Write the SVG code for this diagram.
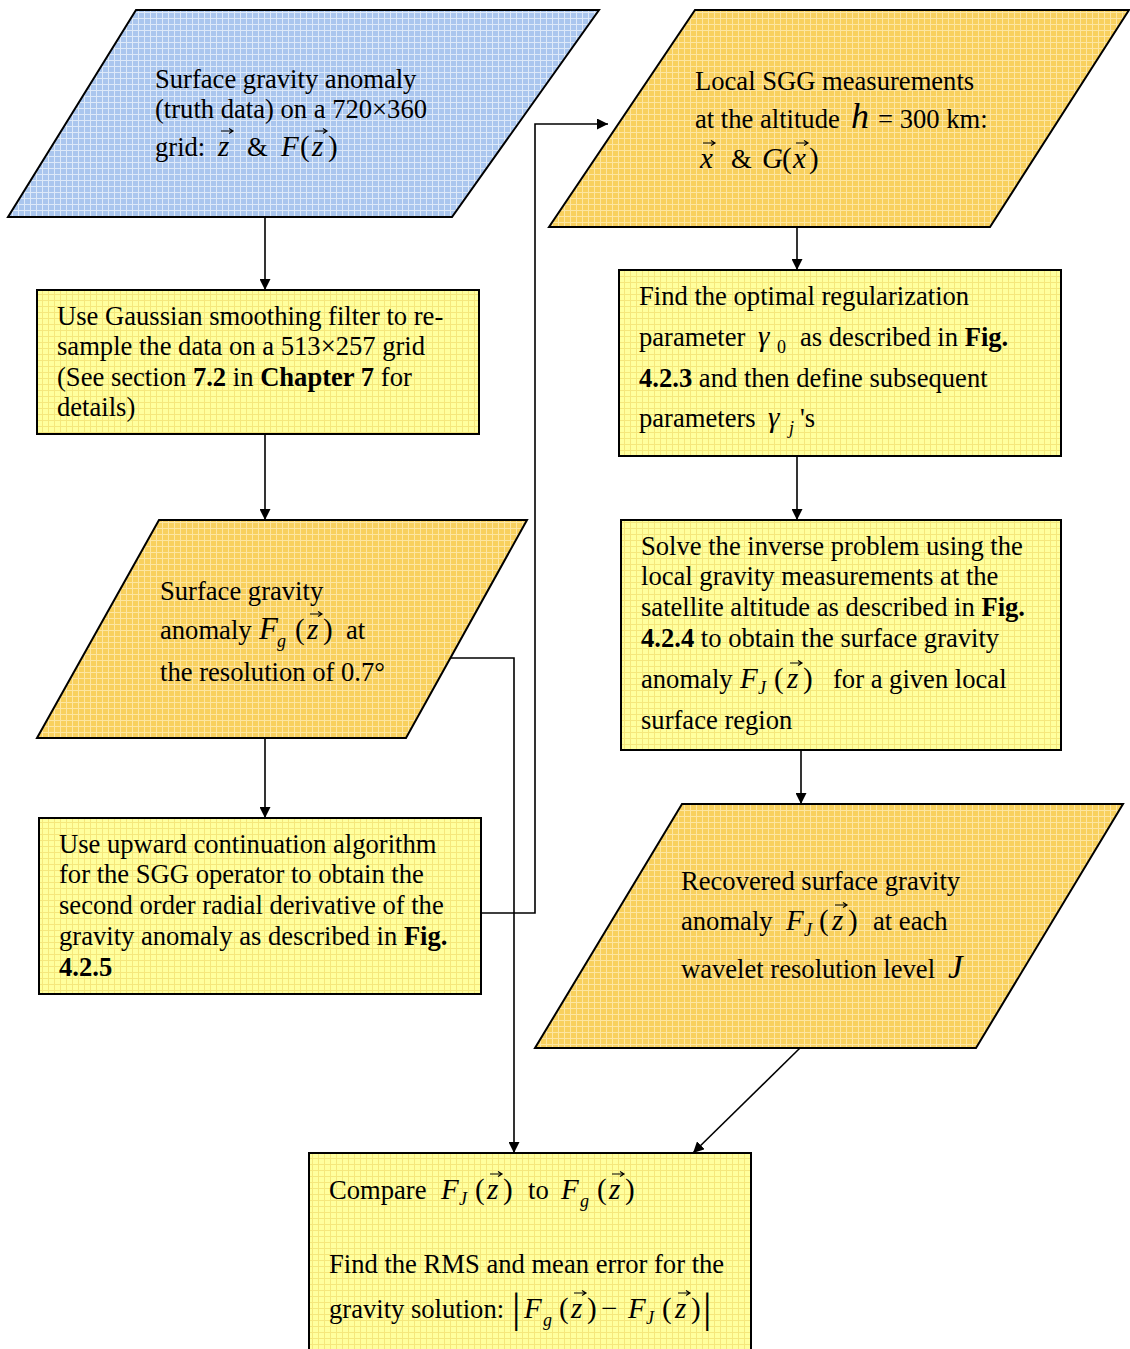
<svg xmlns="http://www.w3.org/2000/svg" width="1130" height="1349" viewBox="0 0 1130 1349">
<defs>
<pattern id="pb" width="6" height="6" patternUnits="userSpaceOnUse"><rect width="6" height="6" fill="#aac6ee"/><path d="M0 0.5H6M0.5 0V6" stroke="#dde9f9" stroke-width="1"/></pattern>
<pattern id="po" width="6" height="6" patternUnits="userSpaceOnUse"><rect width="6" height="6" fill="#f8d05e"/><path d="M0 0.5H6M0.5 0V6" stroke="#fde6a2" stroke-width="1"/></pattern>
<pattern id="py" width="6" height="6" patternUnits="userSpaceOnUse"><rect width="6" height="6" fill="#ffff9e"/><path d="M0 0.5H6M0.5 0V6" stroke="#f5e77c" stroke-width="1"/></pattern>
<marker id="ah" viewBox="0 0 10 10" refX="10" refY="5" markerWidth="11" markerHeight="11" markerUnits="userSpaceOnUse" orient="auto"><path d="M0 0L10 5L0 10z" fill="#000"/></marker>
</defs>
<style>
.shape{stroke:#000;stroke-width:2}
.t{font-family:"Liberation Serif","Times New Roman",serif;font-size:26.6px;fill:#000}
.b{font-weight:bold}
.mi{font-style:italic;font-size:29px}
.mp{font-size:29px}
.sub{font-style:italic;font-size:18px}
.subr{font-size:18px}
.bar{font-size:42px}
.c{fill:none;stroke:#000;stroke-width:1.6}
.v{fill:none;stroke:#000;stroke-width:1.2}
</style>

<g id="connectors">
<path class="c" d="M265 217V290" marker-end="url(#ah)"/>
<path class="c" d="M265 434V520" marker-end="url(#ah)"/>
<path class="c" d="M265 738V818" marker-end="url(#ah)"/>
<path class="c" d="M481 913H535V124H608" marker-end="url(#ah)"/>
<path class="c" d="M797 227V270" marker-end="url(#ah)"/>
<path class="c" d="M797 456V520" marker-end="url(#ah)"/>
<path class="c" d="M801 750V804" marker-end="url(#ah)"/>
<path class="c" d="M446 658H514V1153" marker-end="url(#ah)"/>
<path class="c" d="M800 1048L693 1153" marker-end="url(#ah)"/>
</g>

<g id="truth">
<polygon class="shape" points="136,10 599,10 452,217 8,217" fill="url(#pb)"/>
<text class="t" x="155" y="88">Surface gravity anomaly</text>
<text class="t" x="155" y="118">(truth data) on a 720×360</text>
<text class="t" x="155" y="156">grid:<tspan class="mi" x="218">z</tspan><tspan x="247">&amp;</tspan><tspan class="mi" x="281">F</tspan><tspan class="mp" x="300">(</tspan><tspan class="mi" x="312">z</tspan><tspan class="mp" x="328">)</tspan></text>
<path class="v" d="M221 131H233M229 128.5L233 131L229 133.5M315 131H327M323 128.5L327 131L323 133.5"/>
</g>

<g id="sgg">
<polygon class="shape" points="695,10 1129,10 990,227 549,227" fill="url(#po)"/>
<text class="t" x="695" y="90">Local SGG measurements</text>
<text class="t" x="695" y="128">at the altitude<tspan style="font-style:italic;font-size:36px" x="851">h</tspan><tspan x="878">= 300 km:</tspan></text>
<text class="t" x="700" y="168"><tspan class="mi">x</tspan><tspan x="731">&amp;</tspan><tspan class="mi" x="762">G</tspan><tspan class="mp" x="782">(</tspan><tspan class="mi" x="793">x</tspan><tspan class="mp" x="809">)</tspan></text>
<path class="v" d="M703 143H715M711 140.5L715 143L711 145.5M796 143H808M804 140.5L808 143L804 145.5"/>
</g>

<g id="gaussian">
<rect class="shape" x="37" y="290" width="442" height="144" fill="url(#py)"/>
<text class="t" x="57" y="325">Use Gaussian smoothing filter to re-</text>
<text class="t" x="57" y="355">sample the data on a 513×257 grid</text>
<text class="t" x="57" y="386">(See section <tspan class="b">7.2</tspan> in <tspan class="b">Chapter 7</tspan> for</text>
<text class="t" x="57" y="416">details)</text>
</g>

<g id="optimal">
<rect class="shape" x="619" y="270" width="442" height="186" fill="url(#py)"/>
<text class="t" x="639" y="305">Find the optimal regularization</text>
<text class="t" x="639" y="346">parameter<tspan class="mi" x="758">γ</tspan><tspan class="subr" x="777" dy="7">0</tspan><tspan dy="-7" x="800">as described in </tspan><tspan class="b">Fig.</tspan></text>
<text class="t" x="639" y="387"><tspan class="b">4.2.3</tspan> and then define subsequent</text>
<text class="t" x="639" y="427">parameters<tspan class="mi" x="768">γ</tspan><tspan class="sub" dy="7" x="789">j</tspan><tspan dy="-7" x="800">'s</tspan></text>
</g>

<g id="fg">
<polygon class="shape" points="159,520 527,520 406,738 37,738" fill="url(#po)"/>
<text class="t" x="160" y="600">Surface gravity</text>
<text class="t" x="160" y="639">anomaly<tspan class="mi" style="font-size:31px" x="259">F</tspan><tspan class="sub" x="277" dy="8">g</tspan><tspan class="mp" dy="-8" x="295">(</tspan><tspan class="mi" x="307">z</tspan><tspan class="mp" x="323">)</tspan><tspan x="346">at</tspan></text>
<path class="v" d="M310 614H322M318 611.5L322 614L318 616.5"/>
<text class="t" x="160" y="681">the resolution of 0.7°</text>
</g>

<g id="solve">
<rect class="shape" x="621" y="520" width="440" height="230" fill="url(#py)"/>
<text class="t" x="641" y="555">Solve the inverse problem using the</text>
<text class="t" x="641" y="585">local gravity measurements at the</text>
<text class="t" x="641" y="616">satellite altitude as described in <tspan class="b">Fig.</tspan></text>
<text class="t" x="641" y="647"><tspan class="b">4.2.4</tspan> to obtain the surface gravity</text>
<text class="t" x="641" y="688">anomaly<tspan class="mi" x="740">F</tspan><tspan class="sub" x="758" dy="6">J</tspan><tspan class="mp" dy="-6" x="774">(</tspan><tspan class="mi" x="787">z</tspan><tspan class="mp" x="803">)</tspan><tspan x="833">for a given local</tspan></text>
<path class="v" d="M790 663H802M798 660.5L802 663L798 665.5"/>
<text class="t" x="641" y="729">surface region</text>
</g>

<g id="upward">
<rect class="shape" x="39" y="818" width="442" height="176" fill="url(#py)"/>
<text class="t" x="59" y="853">Use upward continuation algorithm</text>
<text class="t" x="59" y="883">for the SGG operator to obtain the</text>
<text class="t" x="59" y="914">second order radial derivative of the</text>
<text class="t" x="59" y="945">gravity anomaly as described in <tspan class="b">Fig.</tspan></text>
<text class="t b" x="59" y="976">4.2.5</text>
</g>

<g id="recovered">
<polygon class="shape" points="682,804 1123,804 976,1048 535,1048" fill="url(#po)"/>
<text class="t" x="681" y="890">Recovered surface gravity</text>
<text class="t" x="681" y="930">anomaly<tspan class="mi" x="786">F</tspan><tspan class="sub" x="804" dy="6">J</tspan><tspan class="mp" dy="-6" x="819">(</tspan><tspan class="mi" x="832">z</tspan><tspan class="mp" x="848">)</tspan><tspan x="873">at each</tspan></text>
<path class="v" d="M835 905H847M843 902.5L847 905L843 907.5"/>
<text class="t" x="681" y="978">wavelet resolution level<tspan class="mi" style="font-size:33px" x="948">J</tspan></text>
</g>

<g id="compare">
<rect class="shape" x="309" y="1153" width="442" height="200" fill="url(#py)"/>
<text class="t" x="329" y="1199">Compare<tspan class="mi" x="441">F</tspan><tspan class="sub" x="459" dy="6">J</tspan><tspan class="mp" dy="-6" x="475">(</tspan><tspan class="mi" x="487">z</tspan><tspan class="mp" x="503">)</tspan><tspan x="528">to</tspan><tspan class="mi" x="561">F</tspan><tspan class="sub" x="580" dy="8">g</tspan><tspan class="mp" dy="-8" x="597">(</tspan><tspan class="mi" x="609">z</tspan><tspan class="mp" x="625">)</tspan></text>
<path class="v" d="M490 1174H502M498 1171.5L502 1174L498 1176.5M612 1174H624M620 1171.5L624 1174L620 1176.5"/>
<text class="t" x="329" y="1273">Find the RMS and mean error for the</text>
<text class="t" x="329" y="1318">gravity solution:<tspan class="bar" x="512" dy="4">|</tspan><tspan class="mi" dy="-4" x="524">F</tspan><tspan class="sub" x="543" dy="8">g</tspan><tspan class="mp" dy="-8" x="559">(</tspan><tspan class="mi" x="571">z</tspan><tspan class="mp" x="587">)</tspan><tspan class="mp" x="601">−</tspan><tspan class="mi" x="628">F</tspan><tspan class="sub" x="646" dy="6">J</tspan><tspan class="mp" dy="-6" x="662">(</tspan><tspan class="mi" x="675">z</tspan><tspan class="mp" x="691">)</tspan><tspan class="bar" x="703" dy="4">|</tspan></text>
<path class="v" d="M574 1293H586M582 1290.5L586 1293L582 1295.5M678 1293H690M686 1290.5L690 1293L686 1295.5"/>
</g>
</svg>
